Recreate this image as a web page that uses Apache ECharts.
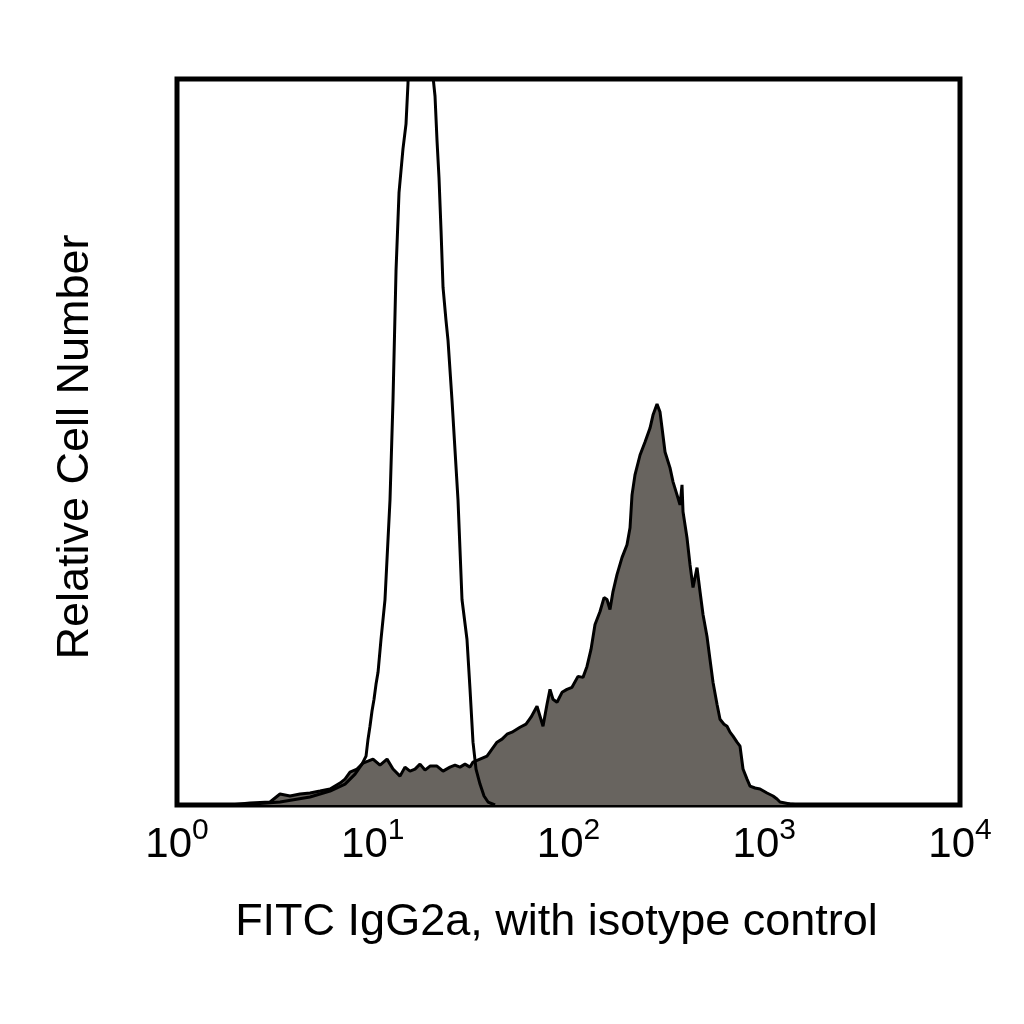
<!DOCTYPE html>
<html>
<head>
<meta charset="utf-8">
<script src="https://cdn.jsdelivr.net/npm/echarts@6/dist/echarts.min.js"></script>
<style>
html,body{margin:0;padding:0;background:#fff;}
#chart{width:1024px;height:1024px;}
</style>
</head>
<body>
<div id="chart"></div>
<script>
// Tick values and exponent labels of the log x axis
const tickValues = [1, 10, 100, 1000, 10000];
const tickExponents = ['0', '1', '2', '3', '4'];

// Isotype control (open histogram): fluorescence intensity and relative count
const isotypeX = [2.10, 3.36, 4.78, 6.05, 7.22, 8.12, 8.81, 9.24, 9.46, 9.68, 9.91, 10.15, 10.39, 10.64, 11.02, 11.55, 12.25, 12.69, 13.15, 13.62, 14.27, 14.79, 15.14, 15.6, 17.4, 19.6, 20.32, 20.80, 21.30, 21.80, 22.33, 22.86, 23.67, 24.24, 25.40, 27.26, 28.57, 30.30, 31.40, 32.52, 33.69, 35.31, 37.02, 38.81, 42.13];
const isotypeY = [0, 0.41, 1.10, 1.92, 2.88, 4.26, 5.63, 6.73, 9.07, 10.85, 12.91, 14.56, 16.62, 18.27, 22.80, 28.30, 42.03, 55.77, 73.63, 84.34, 90.38, 93.82, 99.45, 118, 125, 116, 100.3, 97.66, 91.48, 86.40, 79.12, 71.29, 66.76, 64.01, 55.77, 42.03, 28.30, 22.80, 15.93, 8.65, 4.95, 2.88, 1.24, 0.41, 0];

// Stained sample (filled grey histogram)
const stainedX = [1.866, 2.360, 2.987, 3.359, 3.779, 4.250, 4.780, 5.377, 6.048, 6.803, 7.215, 7.652, 8.309, 8.916, 9.457, 10.03, 10.89, 11.83, 12.69, 13.78, 14.61, 15.50, 16.44, 17.43, 18.49, 19.61, 21.29, 22.86, 24.81, 26.31, 27.91, 29.60, 31.39, 32.52, 35.31, 38.34, 40.66, 43.13, 45.74, 48.51, 51.45, 56.53, 60.67, 64.34, 69.04, 74.09, 77.67, 80.44, 83.31, 87.37, 92.66, 98.25, 104.2, 111.8, 118.6, 124.3, 130.3, 136.6, 144.9, 151.9, 157.3, 162.9, 168.8, 176.9, 187.6, 199.0, 206.2, 211.1, 218.6, 232.0, 246.0, 260.9, 270.2, 283.3, 293.5, 300.5, 311.3, 330.1, 342.0, 358.4, 371.3, 380.1, 384.6, 403.0, 417.6, 432.6, 453.5, 469.7, 486.6, 510.0, 528.3, 547.3, 573.7, 594.3, 622.9, 645.3, 668.5, 692.5, 725.9, 752.0, 779.0, 816.6, 845.9, 897.2, 951.5, 1033, 1109, 1162, 1204, 1354, 1523];
const stainedY = [0, 0.27, 0.41, 1.51, 1.24, 1.51, 1.65, 1.92, 2.20, 3.02, 3.57, 4.53, 4.95, 5.77, 6.04, 6.32, 5.49, 6.32, 4.95, 3.98, 5.22, 4.67, 4.95, 5.63, 4.81, 5.36, 5.36, 4.67, 5.22, 5.49, 5.22, 5.63, 5.22, 5.91, 6.32, 6.73, 7.69, 8.65, 9.07, 9.75, 10.03, 10.71, 11.13, 12.09, 13.60, 10.85, 13.87, 15.93, 14.56, 14.15, 15.52, 15.93, 16.21, 17.72, 17.58, 19.09, 21.43, 24.86, 26.65, 28.57, 28.30, 26.92, 29.40, 31.73, 34.07, 35.85, 38.19, 42.72, 45.47, 48.21, 50.00, 51.92, 53.71, 55.22, 54.12, 51.92, 48.63, 46.43, 44.51, 42.72, 41.35, 44.09, 40.38, 36.81, 33.10, 29.95, 32.69, 29.40, 26.24, 23.21, 20.05, 16.90, 13.87, 11.81, 11.13, 10.85, 10.03, 9.48, 8.65, 8.10, 4.95, 3.57, 2.61, 2.34, 2.20, 1.65, 1.24, 0.82, 0.41, 0.14, 0];

const xTitle = 'FITC IgG2a, with isotype control';
const yTitle = 'Relative Cell Number';

const zip = (xs, ys) => xs.map((x, i) => [x, ys[i]]);

const chart = echarts.init(document.getElementById('chart'));
const FONT = '"Liberation Sans", Arial, Helvetica, sans-serif';
chart.setOption({
  animation: false,
  backgroundColor: '#ffffff',
  grid: {
    left: 177, right: 64, top: 79, bottom: 219,
    show: true, borderColor: '#000', borderWidth: 5, backgroundColor: 'transparent'
  },
  xAxis: {
    type: 'log', logBase: 10, min: 1, max: 10000,
    axisLine: { show: false },
    axisTick: { show: false },
    splitLine: { show: false },
    axisLabel: {
      showMinLabel: true, showMaxLabel: true, hideOverlap: false,
      margin: 13,
      fontFamily: FONT,
      formatter: function (v) {
        const i = tickValues.findIndex(t => Math.abs(t - v) / t < 1e-6);
        if (i < 0) return '';
        return '{b|10}{s|' + tickExponents[i] + '}';
      },
      rich: {
        b: { fontSize: 42, lineHeight: 48, color: '#000', fontFamily: FONT, verticalAlign: 'bottom' },
        s: { fontSize: 30, lineHeight: 34, color: '#000', fontFamily: FONT, verticalAlign: 'bottom', padding: [0, 0, 20, 0] }
      }
    },
    name: xTitle,
    nameLocation: 'middle',
    nameGap: 95,
    nameTextStyle: { fontSize: 45, color: '#000', fontFamily: FONT, padding: [0, 24, 0, 0] }
  },
  yAxis: {
    type: 'value', min: 0, max: 100,
    axisLine: { show: false },
    axisTick: { show: false },
    axisLabel: { show: false },
    splitLine: { show: false },
    name: yTitle,
    nameLocation: 'middle',
    nameRotate: 90,
    nameGap: 79,
    nameTextStyle: { fontSize: 45, color: '#000', fontFamily: FONT, padding: [0, 10, 0, 0] }
  },
  series: [
    {
      name: 'stained',
      type: 'line',
      data: zip(stainedX, stainedY),
      symbol: 'none',
      clip: true,
      lineStyle: { color: '#000', width: 3 },
      areaStyle: { color: '#68645f', opacity: 1 },
      z: 2
    },
    {
      name: 'isotype',
      type: 'line',
      data: zip(isotypeX, isotypeY),
      symbol: 'none',
      clip: true,
      lineStyle: { color: '#000', width: 3 },
      z: 3
    }
  ]
});
</script>
</body>
</html>
